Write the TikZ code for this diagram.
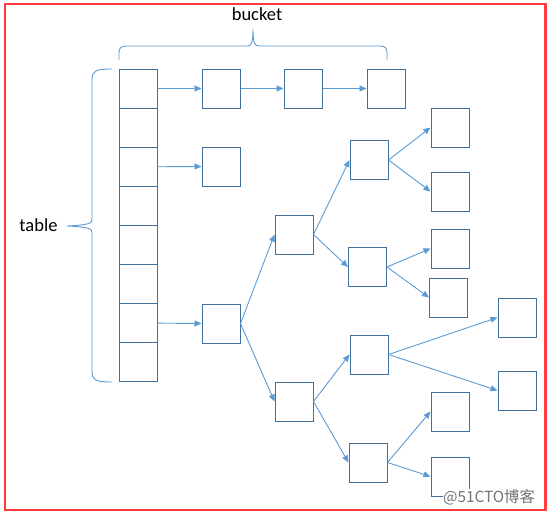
\documentclass[tikz,border=0pt]{standalone}
\usepackage{fontspec}
\setmainfont{Carlito}
\newfontfamily\cjkfont{Noto Sans CJK SC}
\usetikzlibrary{arrows.meta}
\definecolor{boxblue}{HTML}{41719C}
\definecolor{arrblue}{HTML}{5B9BD5}
\definecolor{frame}{HTML}{FF3B3B}
\tikzset{
  cell/.style={draw=boxblue, line width=1pt, minimum width=38pt, minimum height=39.1pt, inner sep=0pt},
  boxn/.style={draw=boxblue, line width=1pt, minimum width=38pt, minimum height=39pt, inner sep=0pt},
  arr/.style={draw=arrblue, line width=0.9pt, -{Triangle[length=7pt,width=6pt]}},
  brace/.style={draw=arrblue, line width=0.9pt},
  lbl/.style={font=\fontsize{18.5}{22}\selectfont, inner sep=0pt},
  wmk/.style={font=\cjkfont\fontsize{15.3}{17}\selectfont, inner sep=0.6pt, fill=white, text=black!55}
}
\begin{document}
\begin{tikzpicture}[x=1pt,y=-1pt]
\useasboundingbox (0,0) rectangle (549,514);
\draw[frame, line width=2.5pt] (5,4) rectangle (545.5,510);
% table cells
\foreach \i in {0,...,7} {
  \node[cell] (t\i) at (138,{69+39.1*(\i+0.5)}) {};
}
% bucket row
\node[boxn] (b1) at (221,88.5) {};
\node[boxn] (b2) at (303,88.5) {};
\node[boxn] (b3) at (386,88.5) {};
\node[boxn] (s1) at (221,166.5) {};
\node[boxn] (r0) at (221,323.5) {};
% tree
\node[boxn] (na) at (294,234.5) {};
\node[boxn] (nd) at (294,401.5) {};
\node[boxn] (nc) at (369,160) {};
\node[boxn] (nb) at (367.5,267) {};
\node[boxn] (ne) at (369,354.5) {};
\node[boxn] (nf) at (368,462.5) {};
\node[boxn] (c1) at (450,127.5) {};
\node[boxn] (c2) at (450,191.5) {};
\node[boxn] (bb1) at (450,248.5) {};
\node[boxn] (bb2) at (448.5,297.5) {};
\node[boxn] (e1) at (517,317.5) {};
\node[boxn] (e2) at (517,390.5) {};
\node[boxn] (f1) at (450,411.5) {};
\node[boxn] (f2) at (450,476.5) {};
% arrows
\draw[arr] (t0.east) -- (b1.west);
\draw[arr] (b1.east) -- (b2.west);
\draw[arr] (b2.east) -- (b3.west);
\draw[arr] (t2.east) -- (s1.west);
\draw[arr] (t6.east) -- (r0.west);
\draw[arr] (r0.east) -- (na.west);
\draw[arr] (r0.east) -- (nd.west);
\draw[arr] (na.east) -- (nc.west);
\draw[arr] (na.east) -- (nb.west);
\draw[arr] (nd.east) -- (ne.west);
\draw[arr] (nd.east) -- (nf.west);
\draw[arr] (nc.east) -- (c1.west);
\draw[arr] (nc.east) -- (c2.west);
\draw[arr] (nb.east) -- (bb1.west);
\draw[arr] (nb.east) -- (bb2.west);
\draw[arr] (ne.east) -- (e1.west);
\draw[arr] (ne.east) -- (e2.west);
\draw[arr] (nf.east) -- (f1.west);
\draw[arr] (nf.east) -- (f2.west);
% braces
\coordinate (lt) at (112,69);
\coordinate (lb) at (112,382);
\coordinate (ltip) at (67,226);
\draw[brace] (lt) .. controls (95,69) and (92,71) .. (92,80) -- (92,219)
  .. controls (92,223) and (90,225) .. (ltip)
  .. controls (90,227) and (92,229) .. (92,233) -- (92,371)
  .. controls (92,380) and (95,382) .. (lb);
\coordinate (tl) at (119,60);
\coordinate (tr) at (387,60);
\coordinate (ttip) at (253,29);
\draw[brace] (tl) -- (119,53) .. controls (119,48) and (121,46) .. (126,46) -- (247,46)
  .. controls (251,46) and (253,44) .. (ttip)
  .. controls (253,44) and (255,46) .. (259,46) -- (380,46)
  .. controls (385,46) and (387,48) .. (387,53) -- (tr);
\node[lbl] (bucket) at (257,14) {bucket};
\node[lbl] (table) at (38.5,225) {table};
\node[wmk] (wm) at (489,497.5) {@51CTO博客};
\end{tikzpicture}
\end{document}
